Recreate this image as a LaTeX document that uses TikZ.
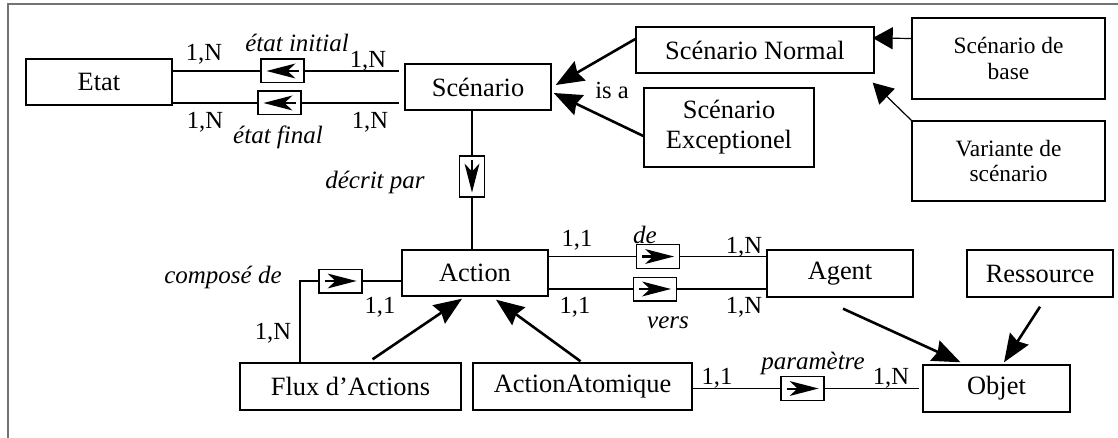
\documentclass[tikz,border=0pt]{standalone}
\usepackage{fontspec}
\setmainfont{Liberation Serif}
\usetikzlibrary{arrows.meta}

\begin{document}
\begin{tikzpicture}[
    x=0.5pt, y=-0.5pt,
    ent/.style={draw, line width=0.7pt, minimum height=23pt, inner sep=0pt, align=center, font=\fontsize{13.2}{15}\selectfont},
    small/.style={font=\fontsize{11.7}{12.6}\selectfont},
    rel/.style={draw, line width=0.7pt, minimum width=21.5pt, minimum height=11.8pt, inner sep=0pt},
    relglyph/.pic={
        \draw[line width=1pt] (-16,0) -- (-3,0);
        \fill (16,0) -- (-13,-7.5) -- (-5,0) -- (-13,7.5) -- cycle;
    },
    card/.style={inner sep=0pt, font=\fontsize{12.3}{14}\selectfont},
    rname/.style={inner sep=0pt, font=\fontsize{12.5}{14}\selectfont\itshape},
    link/.style={line width=0.6pt},
    isa/.style={line width=1.3pt, -{Stealth[length=14pt,width=11pt,inset=1.5pt]}},
    spec/.style={line width=0.6pt, -{Triangle[length=10pt,width=11pt]}},
    frame/.style={draw=black!55, line width=0.75pt}
    ]
    \useasboundingbox (0,0) rectangle (1118,438);
    \draw[frame] (8,438) -- (8,4) -- (1118,4);

    \node[ent, minimum width=73pt] (etat) at (99,82) {Etat};
    \node[ent, minimum width=73pt] (scen) at (478,87) {Scénario};
    \node[ent, minimum width=119pt] (snormal) at (755,50) {Scénario Normal};
    \node[ent, minimum width=85pt, minimum height=39.5pt] (sexcept) at (729,127.5) {Scénario\\Exceptionel};
    \node[ent, small, minimum width=96.5pt, minimum height=40.5pt] (sbase) at (1008.5,58.5) {Scénario de\\base};
    \node[ent, small, minimum width=96.5pt, minimum height=40pt] (svar) at (1008.5,161) {Variante de\\scénario};
    \node[ent, minimum width=73pt] (action) at (475,273) {Action};
    \node[ent, minimum width=73pt, minimum height=23.5pt] (agent) at (840,273.5) {Agent};
    \node[ent, minimum width=73pt, minimum height=23.5pt] (ress) at (1040,273.5) {Ressource};
    \node[ent, minimum width=73.5pt, minimum height=23.5pt] (objet) at (996.5,388.5) {Objet};
    \node[ent, minimum width=110.5pt, minimum height=23.5pt] (flux) at (350.5,386.5) {Flux d’Actions};
    \node[ent, minimum width=109.5pt, minimum height=23.5pt] (atom) at (582.5,386.5) {ActionAtomique};

    \node[rel] (rinit) at (282.5,71) {};
    \node[rel] (rfinal) at (279.5,103) {};
    \node[rel, minimum width=12.5pt, minimum height=20.5pt] (rdecrit) at (472,176.5) {};
    \node[rel] (rcomp) at (340.5,281) {};
    \node[rel] (rde) at (658,256.5) {};
    \node[rel] (rvers) at (655,289) {};
    \node[rel] (rparam) at (802.5,388.5) {};

    \pic[rotate=180] at (rinit) {relglyph};
    \pic[rotate=180] at (rfinal) {relglyph};
    \pic[rotate=-90] at (rdecrit) {relglyph};
    \pic at (rcomp) {relglyph};
    \pic at (rde) {relglyph};
    \pic at (rvers) {relglyph};
    \pic at (rparam) {relglyph};

    \draw[link] (etat.east |- rinit) -- (rinit.west);
    \draw[link, shorten >=2.5pt] (rinit.east) -- (scen.west |- rinit);
    \draw[link] (etat.east |- rfinal) -- (rfinal.west);
    \draw[link, shorten >=2.5pt] (rfinal.east) -- (scen.west |- rfinal);
    \draw[link] (scen.south -| rdecrit) -- (rdecrit.north);
    \draw[link] (rdecrit.south) -- (action.north -| rdecrit);
    \coordinate (ccomp) at (300,281);
    \draw[link] (action.west |- rcomp) -- (rcomp.east);
    \draw[link] (rcomp.west) -- (ccomp) -- (ccomp |- flux.north);
    \draw[link] (action.east |- rde) -- (rde.west);
    \draw[link] (rde.east) -- (agent.west |- rde);
    \draw[link] (action.east |- rvers) -- (rvers.west);
    \draw[link] (rvers.east) -- (agent.west |- rvers);
    \draw[link] (atom.east |- rparam) -- (rparam.west);
    \draw[link, shorten >=1.5pt] (rparam.east) -- (objet.west |- rparam);

    \draw[isa] ([yshift=5.5pt]snormal.west) -- ([shift={(2pt,1pt)}]scen.east);
    \draw[isa] ([yshift=-4.25pt]sexcept.west) -- ([shift={(1pt,-3pt)}]scen.east);
    \draw[spec] ([yshift=10pt]sbase.west) -- ([shift={(-1pt,6pt)}]snormal.east);
    \draw[spec] (svar.north west) -- ([shift={(-1pt,-4.5pt)}]snormal.south east);
    \draw[isa] ([shift={(11pt,1.5pt)}]flux.north) -- ([shift={(-6.5pt,-1pt)}]action.south);
    \draw[isa] ([shift={(-1pt,0.5pt)}]atom.north) -- ([shift={(10.5pt,-1.5pt)}]action.south);
    \draw[isa] ([shift={(1.5pt,-5.5pt)}]agent.south) -- ([shift={(-18pt,1pt)}]objet.north);
    \draw[isa] ([yshift=-4.5pt]ress.south) -- ([shift={(3.75pt,1pt)}]objet.north);

    \node[card] (cinit1) at (204,54) {1,N};
    \node[rname] (ninit) at (297,43) {état initial};
    \node[card] (cinit2) at (368,61) {1,N};
    \node[card] (cfinal1) at (205,122) {1,N};
    \node[rname] (nfinal) at (278,137) {état final};
    \node[card] (cfinal2) at (370,122) {1,N};
    \node[card] (nisa) at (612,90) {is a};
    \node[rname] (ndecrit) at (375,182) {décrit par};
    \node[rname] (ncomp) at (223,277) {composé de};
    \node[card] (ccomp1) at (380,307) {1,1};
    \node[card] (ccomp2) at (273,333) {1,N};
    \node[card] (cde1) at (577,240) {1,1};
    \node[rname] (nde) at (645,235) {de};
    \node[card] (cde2) at (744,247) {1,N};
    \node[card] (cvers1) at (575,307) {1,1};
    \node[card] (cvers2) at (744,307) {1,N};
    \node[rname] (nvers) at (668,323) {vers};
    \node[card] (cparam1) at (717,378) {1,1};
    \node[rname] (nparam) at (813,363) {paramètre};
    \node[card] (cparam2) at (891,378) {1,N};
\end{tikzpicture}
\end{document}
